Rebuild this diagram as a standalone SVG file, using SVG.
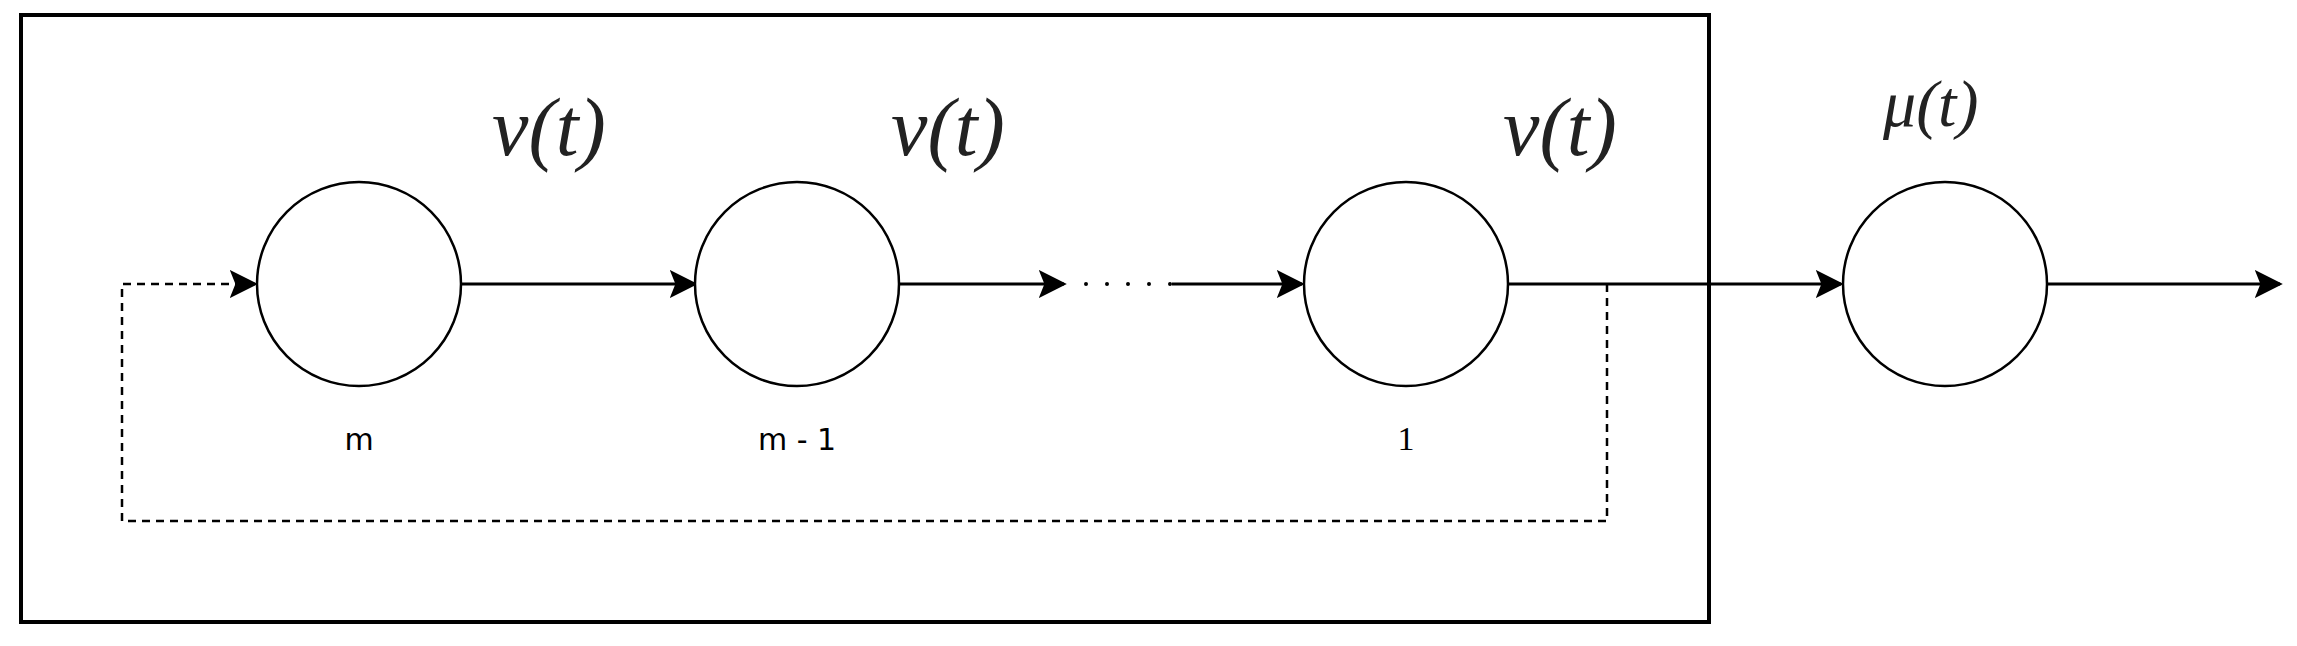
<svg xmlns="http://www.w3.org/2000/svg" width="2297" height="646" viewBox="0 0 2297 646">
<style>
.n{fill:#fff;stroke:#000;stroke-width:2.5}
.e{fill:none;stroke:#000;stroke-width:3}
.d{fill:none;stroke:#000;stroke-width:2.5;stroke-dasharray:8 6}
.m{font-family:"Liberation Serif",serif;font-style:italic;fill:#222}
.l{font-family:"DejaVu Sans",sans-serif;font-size:30px;text-anchor:middle}
</style>
<defs>
<marker id="b" viewBox="0 0 10 10" refX="9" refY="5" markerWidth="28" markerHeight="28" markerUnits="userSpaceOnUse" orient="auto"><path d="M0,0L10,5L0,10L2,5z"/></marker></defs>
<rect x="21" y="15" width="1688" height="607" fill="none" stroke="#000" stroke-width="4"/>
<g id="connectors">
<path class="d" d="M1607,284V521H122V284H255" marker-end="url(#b)"/>
<path class="e" d="M461,284H695" marker-end="url(#b)"/>
<path class="e" d="M899,284H1064" marker-end="url(#b)"/>
<path d="M1086,284H1172" fill="none" stroke="#000" stroke-width="4" stroke-linecap="round" stroke-dasharray="0 21"/>
<path class="e" d="M1172,284H1302" marker-end="url(#b)"/>
<path class="e" d="M1508,284H1841" marker-end="url(#b)"/>
<path class="e" d="M2047,284H2280" marker-end="url(#b)"/>
</g>
<g id="n1"><circle class="n" cx="359" cy="284" r="102"/><text class="l" x="359" y="450">m</text></g>
<g id="n2"><circle class="n" cx="797" cy="284" r="102"/><text class="l" x="797" y="450">m - 1</text></g>
<g id="n3"><circle class="n" cx="1406" cy="284" r="102"/><text class="l" x="1406" y="450" style="font-family:'Liberation Serif',serif;font-size:34px">1</text></g>
<g id="n4"><circle class="n" cx="1945" cy="284" r="102"/></g>
<text class="m" x="492" y="155" font-size="82">ν(t)</text>
<text class="m" x="891" y="155" font-size="82">ν(t)</text>
<text class="m" x="1503" y="155" font-size="82">ν(t)</text>
<text class="m" x="1883" y="126" font-size="66">μ(t)</text>
</svg>
